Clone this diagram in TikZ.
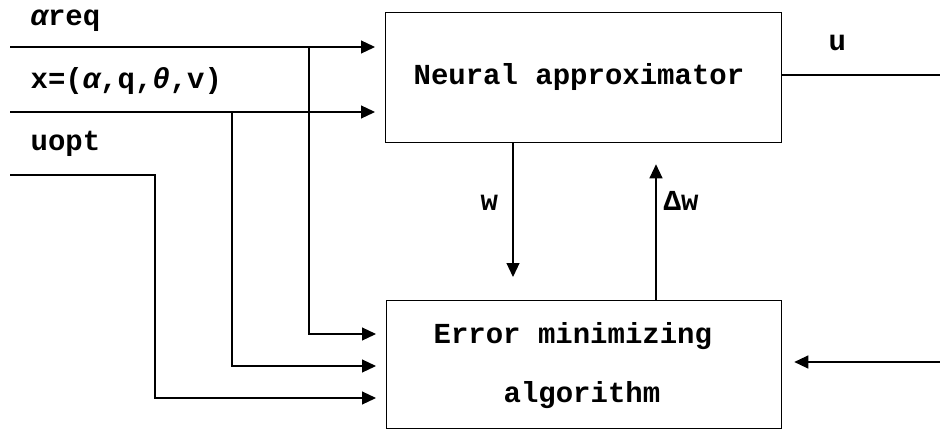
\documentclass[tikz,border=0pt]{standalone}
\usepackage{fontspec}
\setmainfont{Liberation Mono}[BoldFont={Liberation Mono Bold},BoldItalicFont={Liberation Mono Bold Italic}]
\usetikzlibrary{arrows.meta}
\begin{document}
\begin{tikzpicture}[x=1pt,y=-1pt,
  line width=1.2pt,
  every node/.style={font=\fontsize{29}{34}\selectfont\bfseries, inner sep=0pt},
  blk/.style={draw, rectangle, anchor=north west, line width=1.3pt},
  lbl/.style={anchor=base west},
  arr/.style={-{Triangle[length=14pt,width=13pt]}}]
\useasboundingbox (0,0) rectangle (940,431);
% boxes
\node[blk, minimum width=396pt, minimum height=130pt] (NA) at (385,12) {};
\node[blk, minimum width=395pt, minimum height=128pt] (EM) at (386,300) {};
% box texts
\node[lbl] (tNA) at (413,84) {Neural approximator};
\node[lbl] (tEM1) at (433,343) {Error minimizing};
\node[lbl] (tEM2) at (503,402) {algorithm};
% input labels
\node[lbl] (lar) at (30,25) {{\itshape α}req};
\node[lbl] (lx) at (30,88) {x=({\itshape α},q,{\itshape θ},v)};
\node[lbl] (lu) at (30,150) {uopt};
\node[lbl] (lout) at (828,50) {u};
\node[lbl] (lw) at (480,210) {w};
\node[lbl] (ldw) at (663,210) {Δw};
% free ends and routing points
\coordinate (sA) at (10,47);
\coordinate (sX) at (10,112);
\coordinate (sU) at (10,175);
\coordinate (eU) at (940,75);
\coordinate (sR) at (940,362);
\coordinate (jA) at (309,47);
\coordinate (jX) at (232,112);
\coordinate (bU) at (155,175);
\coordinate (yA) at (0,334);
\coordinate (yX) at (0,366);
\coordinate (yU) at (0,398);
\coordinate (xw) at (513,0);
\coordinate (xdw) at (656,0);
% inputs to neural approximator
\draw[arr, shorten >=10pt] (sA) -- (sA -| NA.west);
\draw[arr, shorten >=10pt] (sX) -- (sX -| NA.west);
% branches to error minimizing
\draw[arr, shorten >=10pt] (jA) |- (EM.west |- yA);
\draw[arr, shorten >=10pt] (jX) |- (EM.west |- yX);
\draw[arr, shorten >=10pt] (sU) -- (bU) |- (EM.west |- yU);
% output
\draw (eU -| NA.east) -- (eU);
% w and delta w
\draw[arr, shorten >=23pt] (NA.south -| xw) -- (EM.north -| xw);
\draw[arr, shorten >=21pt] (EM.north -| xdw) -- (NA.south -| xdw);
% right input
\draw[arr, shorten >=12pt] (sR) -- (sR -| EM.east);
\end{tikzpicture}
\end{document}
